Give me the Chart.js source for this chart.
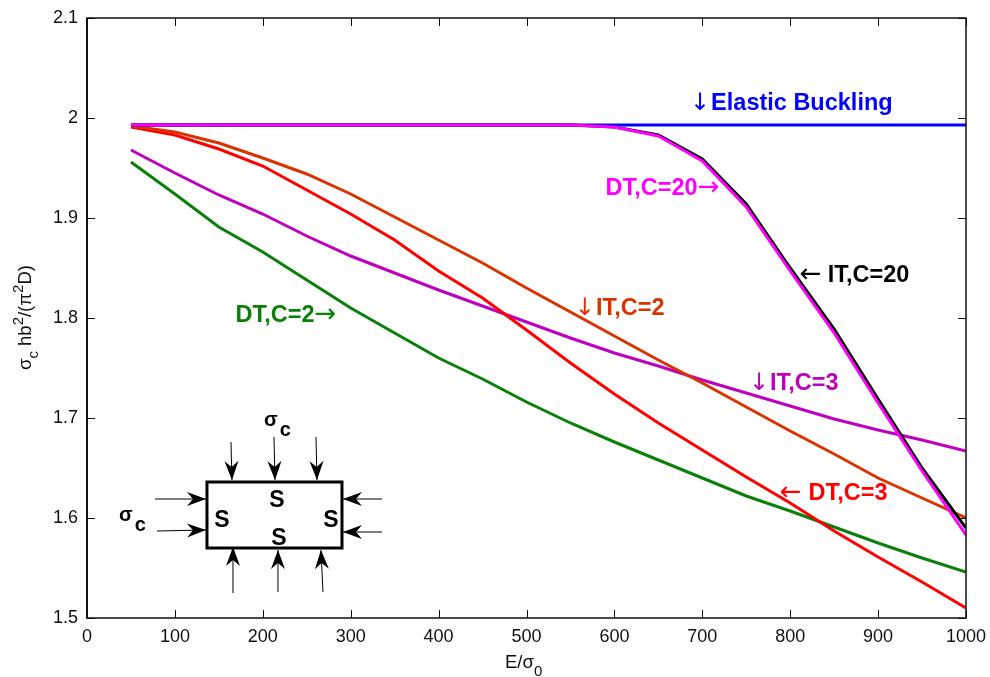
<!DOCTYPE html>
<html>
<head>
<meta charset="utf-8">
<title>Buckling chart</title>
<script src="https://cdn.jsdelivr.net/npm/chart.js@4"></script>
<style>
  html, body { margin: 0; padding: 0; background: #fff; }
  #wrap { width: 990px; height: 677px; }
</style>
</head>
<body>
<div id="wrap"><canvas id="chart"></canvas></div>
<script>
const xValues = [50, 100, 150, 200, 250, 300, 350, 400, 450, 500, 550, 600, 650, 700, 750, 800, 850, 900, 950, 1000];
const xTicks = [0, 100, 200, 300, 400, 500, 600, 700, 800, 900, 1000];
const yTicks = [1.5, 1.6, 1.7, 1.8, 1.9, 2, 2.1];

const elastic = [1.993, 1.993, 1.993, 1.993, 1.993, 1.993, 1.993, 1.993, 1.993, 1.993, 1.993, 1.993, 1.993, 1.993, 1.993, 1.993, 1.993, 1.993, 1.993, 1.993];
const itC20 = [1.993, 1.993, 1.993, 1.993, 1.993, 1.993, 1.993, 1.993, 1.993, 1.993, 1.993, 1.991, 1.983, 1.959, 1.914, 1.85, 1.789, 1.719, 1.65, 1.59];
const dtC20 = [1.993, 1.993, 1.993, 1.993, 1.993, 1.993, 1.993, 1.993, 1.993, 1.993, 1.993, 1.991, 1.982, 1.957, 1.911, 1.847, 1.785, 1.715, 1.647, 1.583];
const itC2 = [1.992, 1.986, 1.975, 1.96, 1.944, 1.924, 1.901, 1.878, 1.855, 1.83, 1.806, 1.782, 1.758, 1.735, 1.711, 1.687, 1.664, 1.64, 1.62, 1.6];
const dtC3 = [1.991, 1.983, 1.969, 1.952, 1.928, 1.904, 1.878, 1.847, 1.82, 1.788, 1.755, 1.724, 1.695, 1.668, 1.641, 1.615, 1.587, 1.561, 1.536, 1.51];
const itC3 = [1.968, 1.945, 1.923, 1.904, 1.882, 1.862, 1.845, 1.828, 1.812, 1.796, 1.78, 1.765, 1.752, 1.738, 1.725, 1.712, 1.699, 1.688, 1.678, 1.667];
const dtC2 = [1.956, 1.924, 1.891, 1.866, 1.838, 1.81, 1.785, 1.76, 1.739, 1.716, 1.695, 1.676, 1.658, 1.64, 1.622, 1.607, 1.591, 1.575, 1.56, 1.546];

const FONT = '"Liberation Sans", Arial, sans-serif';
const ARROW_FONT = '"DejaVu Sans", sans-serif';
const PLOT_LEFT = 87;
const PLOT_BOTTOM_GAP = 59;
const INK = "#111";

// Callouts are anchored at data coordinates, a run is [text, gapAfter]; arrows use ARROW_FONT
const callouts = [
  { x: 686, y: 2.008, color: "#0000ff", runs: [["↓", 1], ["Elastic Buckling", 0]] },
  { x: 590, y: 1.923, color: "#ff00ff", runs: [["DT,C=20", 0], ["→", 0]] },
  { x: 811, y: 1.836, color: "#000000", runs: [["←", 6], ["IT,C=20", 0]] },
  { x: 555, y: 1.803, color: "#d93400", runs: [["↓", 1], ["IT,C=2", 0]] },
  { x: 169, y: 1.796, color: "#0a7f0a", runs: [["DT,C=2", 0], ["→", 0]] },
  { x: 753, y: 1.728, color: "#bf00bf", runs: [["↓", 1], ["IT,C=3", 0]] },
  { x: 788, y: 1.618, color: "#ff0000", runs: [["←", 7], ["DT,C=3", 0]] }
];

function lineDataset(label, values, color, width) {
  return {
    label,
    data: values.map((y, i) => ({ x: xValues[i], y })),
    borderColor: color,
    borderWidth: width,
    pointRadius: 0,
    tension: 0,
    fill: false
  };
}

function drawRuns(ctx, x, y, runs) {
  // runs: { text, size, bold, dy, family, gap }
  let cursor = x;
  runs.forEach((run) => {
    ctx.font = `${run.bold ? "bold " : ""}${run.size}px ${run.family || FONT}`;
    ctx.fillText(run.text, cursor, y + (run.dy || 0));
    cursor += ctx.measureText(run.text).width + (run.gap || 0);
  });
}

function drawArrow(ctx, x1, y1, x2, y2) {
  const angle = Math.atan2(y2 - y1, x2 - x1);
  ctx.save();
  ctx.strokeStyle = "#000";
  ctx.fillStyle = "#000";
  ctx.lineWidth = 1;
  ctx.beginPath();
  ctx.moveTo(x1, y1);
  ctx.lineTo(x2, y2);
  ctx.stroke();
  ctx.translate(x2, y2);
  ctx.rotate(angle);
  ctx.beginPath();
  ctx.moveTo(0, 0);
  ctx.lineTo(-19, -7);
  ctx.lineTo(-13, 0);
  ctx.lineTo(-19, 7);
  ctx.closePath();
  ctx.fill();
  ctx.restore();
}

const axesPlugin = {
  id: "matlabAxes",
  afterDatasetsDraw(chart) {
    const { ctx, chartArea: area, scales } = chart;
    ctx.save();
    ctx.strokeStyle = INK;
    ctx.lineWidth = 1;
    ctx.beginPath();
    xTicks.forEach((value) => {
      const px = Math.round(scales.x.getPixelForValue(value)) + 0.5;
      ctx.moveTo(px, area.bottom);
      ctx.lineTo(px, area.bottom - 8);
      ctx.moveTo(px, area.top);
      ctx.lineTo(px, area.top + 8);
    });
    yTicks.forEach((value) => {
      const py = Math.round(scales.y.getPixelForValue(value)) + 0.5;
      ctx.moveTo(area.left, py);
      ctx.lineTo(area.left + 8, py);
      ctx.moveTo(area.right, py);
      ctx.lineTo(area.right - 8, py);
    });
    ctx.stroke();
    ctx.lineWidth = 1.5;
    ctx.strokeRect(area.left, area.top, area.right - area.left, area.bottom - area.top);
    ctx.lineWidth = 2;
    ctx.beginPath();
    ctx.moveTo(area.left, area.top);
    ctx.lineTo(area.left, area.bottom);
    ctx.stroke();
    ctx.restore();
  }
};

const labelsPlugin = {
  id: "chartLabels",
  afterDraw(chart) {
    const { ctx, scales } = chart;
    ctx.save();
    ctx.textBaseline = "alphabetic";
    ctx.textAlign = "left";

    callouts.forEach((item) => {
      ctx.fillStyle = item.color;
      drawRuns(ctx, scales.x.getPixelForValue(item.x), scales.y.getPixelForValue(item.y),
        item.runs.map(([text, gap]) => {
          if (text === "↓") return { text, gap, size: 24, family: ARROW_FONT };
          if (text === "←" || text === "→") return { text, gap, size: 26, family: ARROW_FONT };
          return { text, gap, size: 23.5, bold: true };
        }));
    });

    // Axis titles
    ctx.fillStyle = INK;
    drawRuns(ctx, 505, 668, [
      { text: "E/σ", size: 18.5 },
      { text: "0", size: 15, dy: 8 }
    ]);
    ctx.save();
    ctx.translate(31, 370);
    ctx.rotate(-Math.PI / 2);
    drawRuns(ctx, 0, 0, [
      { text: "σ", size: 18.5 },
      { text: "c", size: 15, dy: 7 },
      { text: " hb", size: 18.5 },
      { text: "2", size: 15, dy: -8 },
      { text: "/(π", size: 18.5 },
      { text: "2", size: 15, dy: -8 },
      { text: "D)", size: 18.5 }
    ]);
    ctx.restore();

    // Inset sketch, offsets from the plate's top left corner
    const ox = scales.x.getPixelForValue(136.5);
    const oy = scales.y.getPixelForValue(1.636);
    ctx.strokeStyle = "#000";
    ctx.lineWidth = 3;
    ctx.strokeRect(ox, oy, 135, 66);
    [
      [24, -40, 25, -2], [67, -45, 68, -2], [109, -45, 110, -2],
      [-52, 17, -1, 17], [-50, 49, -1, 48],
      [175, 17, 136, 17], [175, 50, 136, 50],
      [26, 111, 26, 65], [71, 110, 71, 68], [116, 110, 114, 68]
    ].forEach(([x1, y1, x2, y2]) => drawArrow(ctx, ox + x1, oy + y1, ox + x2, oy + y2));

    ctx.fillStyle = "#000";
    ctx.textAlign = "center";
    ctx.font = `bold 23px ${FONT}`;
    [[15, 45], [70, 25], [124, 45], [72, 63]].forEach(([x, y]) => ctx.fillText("S", ox + x, oy + y));
    ctx.textAlign = "left";
    [[57, -56], [-88, 39]].forEach(([x, y]) => {
      drawRuns(ctx, ox + x, oy + y, [
        { text: "σ", size: 20, bold: true, gap: 2 },
        { text: "c", size: 20, bold: true, dy: 10 }
      ]);
    });
    ctx.restore();
  }
};

new Chart(document.getElementById("chart"), {
  type: "line",
  plugins: [axesPlugin, labelsPlugin],
  data: {
    // first dataset is painted last
    datasets: [
      lineDataset("DT, C=20", dtC20, "#ff00ff", 3),
      lineDataset("IT, C=20", itC20, "#000000", 3),
      lineDataset("Elastic Buckling", elastic, "#0000ff", 3),
      lineDataset("IT, C=2", itC2, "#d93400", 3),
      lineDataset("DT, C=3", dtC3, "#ff0000", 3),
      lineDataset("IT, C=3", itC3, "#bf00bf", 3),
      lineDataset("DT, C=2", dtC2, "#0a7f0a", 3)
    ]
  },
  options: {
    responsive: true,
    maintainAspectRatio: false,
    animation: false,
    layout: { padding: { top: 18, right: 24, left: 0, bottom: 0 } },
    plugins: {
      legend: { display: false },
      tooltip: { enabled: false }
    },
    scales: {
      x: {
        type: "linear",
        min: 0,
        max: 1000,
        afterFit(scale) { scale.height = PLOT_BOTTOM_GAP; },
        afterBuildTicks(scale) { scale.ticks = xTicks.map((value) => ({ value })); },
        grid: { display: false },
        border: { display: false },
        ticks: {
          color: INK,
          font: { family: FONT, size: 18 },
          maxRotation: 0,
          padding: 0,
          autoSkip: false,
          callback: (value) => String(value)
        }
      },
      y: {
        type: "linear",
        min: 1.5,
        max: 2.1,
        afterFit(scale) { scale.width = PLOT_LEFT; },
        afterBuildTicks(scale) { scale.ticks = yTicks.map((value) => ({ value })); },
        grid: { display: false },
        border: { display: false },
        ticks: {
          color: INK,
          font: { family: FONT, size: 18 },
          padding: 1,
          autoSkip: false,
          callback: (value) => String(value)
        }
      }
    }
  }
});
</script>
</body>
</html>
